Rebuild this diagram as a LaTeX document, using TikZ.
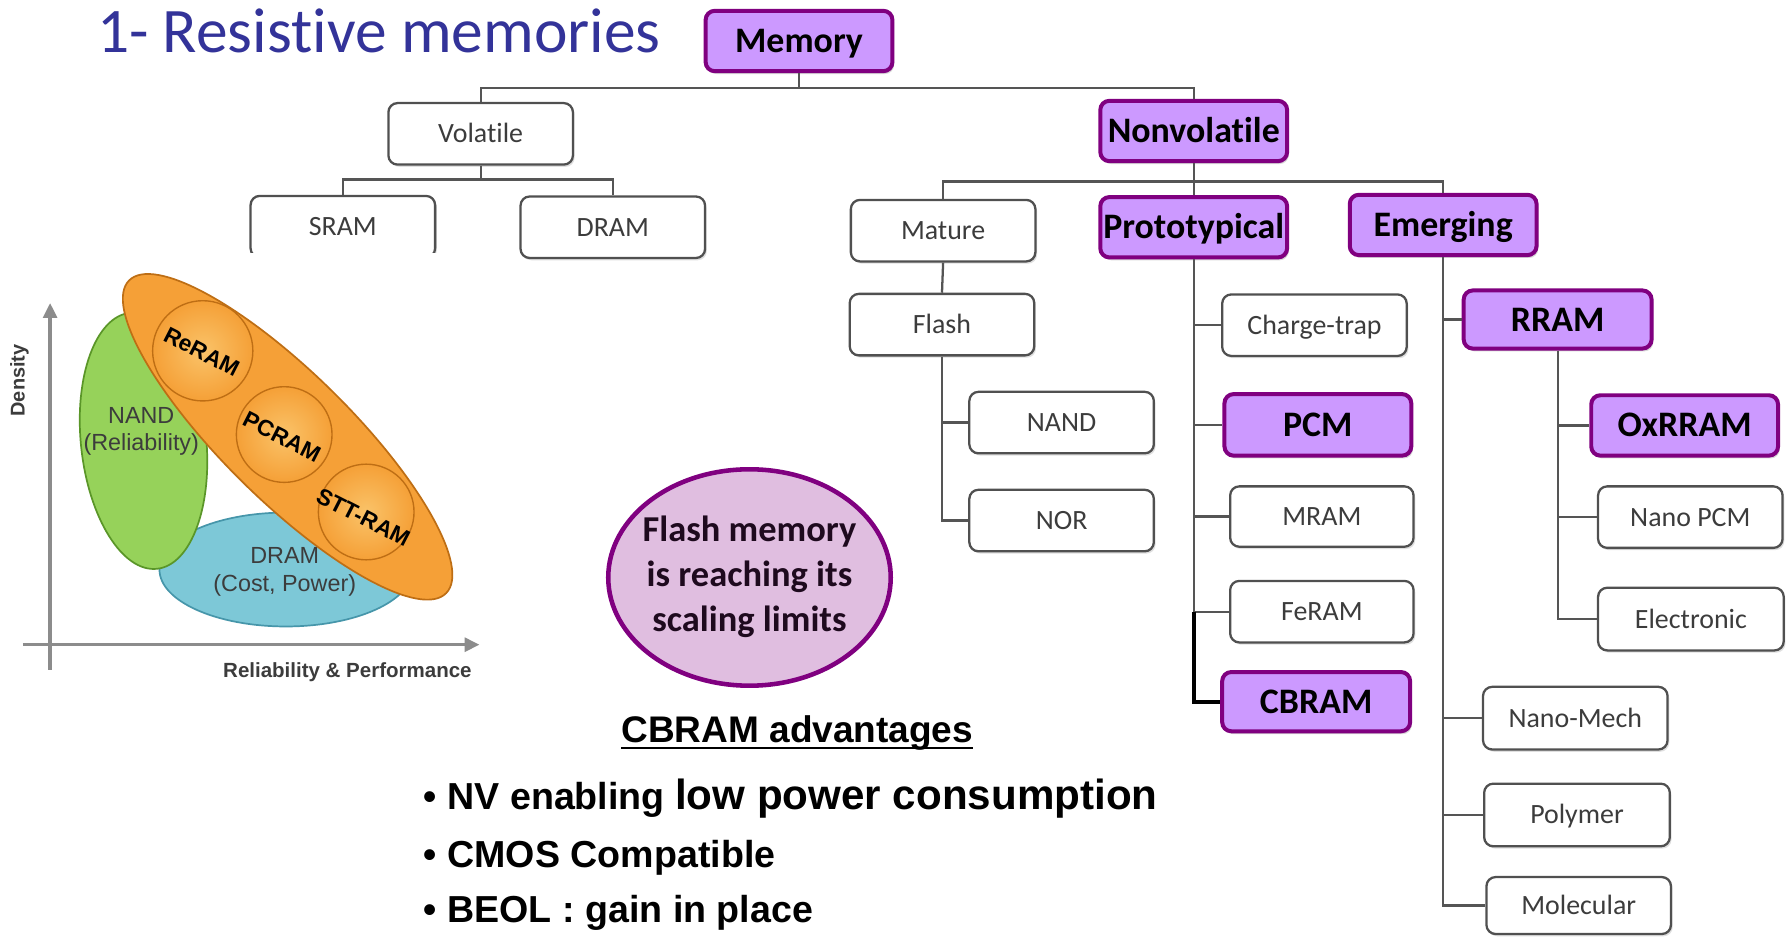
\documentclass[tikz,border=0pt]{standalone}
\usepackage{fontspec}
\setmainfont[Ligatures=NoCommon]{Carlito}
\newfontfamily\arialf{Liberation Sans}
\usetikzlibrary{arrows.meta,shadows}
\definecolor{titleblue}{RGB}{51,51,153}
\definecolor{pfill}{RGB}{204,153,255}
\definecolor{pborder}{RGB}{128,0,128}
\definecolor{boxgray}{RGB}{80,80,80}
\definecolor{textgray}{RGB}{60,60,60}
\definecolor{linegray}{RGB}{85,85,85}
\definecolor{axisgray}{RGB}{140,140,140}
\definecolor{nandgreen}{RGB}{150,210,90}
\definecolor{nandedge}{RGB}{90,150,40}
\definecolor{dramblue}{RGB}{125,200,215}
\definecolor{dramedge}{RGB}{70,150,170}
\definecolor{orfill}{RGB}{245,160,55}
\definecolor{orlight}{RGB}{250,195,105}
\definecolor{oredge}{RGB}{190,110,20}
\definecolor{flashfill}{RGB}{224,190,224}
\definecolor{flashtext}{RGB}{30,10,30}
\newcommand\calreg{\fontsize{24.5}{28}\selectfont}
\newcommand\calbold{\bfseries\fontsize{31.5}{36}\selectfont}
\tikzset{
  wbox/.style={draw=boxgray, line width=2pt, rounded corners=8pt, fill=white,
    minimum width=162pt, minimum height=54pt, inner sep=0pt, font=\calreg, text=textgray,
    text height=15.8pt, text depth=0pt,
    drop shadow={shadow xshift=1.5pt, shadow yshift=-2pt, opacity=0.25}},
  pbox/.style={draw=pborder, line width=3.5pt, rounded corners=8pt, fill=pfill,
    minimum width=164pt, minimum height=53pt, inner sep=0pt, font=\calbold, text=black,
    text height=20.3pt, text depth=0pt,
    drop shadow={shadow xshift=1.5pt, shadow yshift=-2.5pt, opacity=0.3}},
  conn/.style={draw=linegray, line width=2pt},
  hconn/.style={draw=black, line width=3.5pt},
  chartlbl/.style={font=\arialf\fontsize{20.5}{24}\selectfont, text=textgray, align=center, inner sep=0pt},
  ballbl/.style={font=\arialf\bfseries\fontsize{20}{24}\selectfont, text=black, inner sep=0pt, rotate=-27},
  bullet/.style={font=\arialf\bfseries\fontsize{33}{38}\selectfont, anchor=base west, inner sep=0pt}
}
\begin{document}
\begin{tikzpicture}[x=1pt,y=-1pt]
\useasboundingbox (0,0) rectangle (1568,824);
\fill[white] (0,0) rectangle (1568,824);

% title
\node[anchor=base west, inner sep=0pt, text=titleblue, font=\fontsize{55.7}{60}\selectfont] (title) at (85,46) {1- Resistive memories};

% tree nodes
\node[pbox] (mem) at (701.5,36) {Memory};
\node[wbox] (vol) at (422,117.5) {Volatile};
\node[pbox] (nonvol) at (1048,115) {Nonvolatile};
\node[wbox] (sram) at (301,199) {SRAM};
\node[wbox] (dram) at (538,199.5) {DRAM};
\node[wbox] (mature) at (828,202.5) {Mature};
\node[pbox] (proto) at (1048,199.5) {Prototypical};
\node[pbox] (emer) at (1267,197.5) {Emerging};
\node[wbox] (flash) at (827,285) {Flash};
\node[wbox] (ct) at (1154,285.5) {Charge-trap};
\node[pbox, minimum width=165pt, minimum height=51pt] (rram) at (1367.5,280.5) {RRAM};
\node[wbox] (nand) at (932,371) {NAND};
\node[pbox, minimum height=54pt] (pcm) at (1157,373) {PCM};
\node[pbox] (oxrram) at (1479,373.5) {OxRRAM};
\node[wbox] (nor) at (932,457) {NOR};
\node[wbox, minimum width=161pt, minimum height=53pt] (mram) at (1160.5,453.5) {MRAM};
\node[wbox] (nanopcm) at (1484,454) {Nano PCM};
\node[wbox, minimum width=161pt] (feram) at (1160.5,537) {FeRAM};
\node[wbox, minimum width=163pt, minimum height=55pt] (electronic) at (1484.5,543.5) {Electronic};
\node[pbox, minimum width=165pt, minimum height=52pt] (cbram) at (1155.5,616) {CBRAM};
\node[wbox, minimum height=55pt] (nanomech) at (1383,630.5) {Nano-Mech};
\node[wbox, minimum width=163pt, minimum height=55pt] (polymer) at (1384.5,715.5) {Polymer};
\node[wbox, minimum width=162pt, minimum height=50pt] (molecular) at (1386,795) {Molecular};

% connectors
\draw[conn] (mem.south) -- ++(0,13) -| (vol.north);
\draw[conn] (mem.south) -- ++(0,13) -| (nonvol.north);
\draw[conn] (vol.south) -- ++(0,12) -| (sram.north);
\draw[conn] (vol.south) -- ++(0,12) -| (dram.north);
\draw[conn] (nonvol.south) -- ++(0,16) -| (mature.north);
\draw[conn] (nonvol.south) -- (proto.north);
\draw[conn] (nonvol.south) -- ++(0,16) -| (emer.north);
\draw[conn] (mature.south) -- (flash.north);
\draw[conn] (flash.south) |- (nand.west);
\draw[conn] (flash.south) |- (nor.west);
\draw[conn] (proto.south) |- (ct.west);
\draw[conn] (proto.south) |- (pcm.west);
\draw[conn] (proto.south) |- (mram.west);
\draw[conn] (proto.south) |- (feram.west);
\draw[hconn] (proto.south |- feram.west) |- (cbram.west);
\draw[conn] (emer.south) |- (rram.west);
\draw[conn] (emer.south) |- (nanomech.west);
\draw[conn] (emer.south) |- (polymer.west);
\draw[conn] (emer.south) |- (molecular.west);
\draw[conn] (rram.south) |- (oxrram.west);
\draw[conn] (rram.south) |- (nanopcm.west);
\draw[conn] (rram.south) |- (electronic.west);

% chart (picture) background covers SRAM bottom
\fill[white] (0,222) rectangle (425,605);
\draw[axisgray, line width=3pt, -{Triangle[length=13pt,width=12pt]}] (44,588) -- (44,266);
\draw[axisgray, line width=3pt, -{Triangle[length=13pt,width=12pt]}] (20,566) -- (421,566);
\node[rotate=90, font=\arialf\bfseries\fontsize{17.5}{20}\selectfont, text=textgray, inner sep=0pt] (dens) at (17,334) {Density};
\node[font=\arialf\bfseries\fontsize{18}{21}\selectfont, text=textgray, inner sep=0pt] (relperf) at (305,590) {Reliability \& Performance};

\draw[fill=dramblue, draw=dramedge, line width=1.5pt] (251,500) ellipse [x radius=111pt, y radius=50pt];
\draw[fill=nandgreen, draw=nandedge, line width=1.5pt, rotate around={6:(126,387)}] (126,387) ellipse [x radius=55pt, y radius=113pt];
\node[chartlbl] (nandlbl) at (124,379) {NAND\\(Reliability)};
\node[chartlbl] (dramlbl) at (250,502) {DRAM\\(Cost, Power)};

\draw[fill=orfill, draw=oredge, line width=1.5pt, rotate around={-44.6:(252.5,383.5)}] (252.5,383.5) ellipse [x radius=195.5pt, y radius=56pt];
\shade[inner color=orlight, outer color=orfill] (178,308) circle [radius=44pt];
\draw[oredge, line width=1.2pt] (178,308) circle [radius=44pt];
\shade[inner color=orlight, outer color=orfill] (249.5,381.5) circle [radius=42pt];
\draw[oredge, line width=1.2pt] (249.5,381.5) circle [radius=42pt];
\shade[inner color=orlight, outer color=orfill] (321.5,449.5) circle [radius=42pt];
\draw[oredge, line width=1.2pt] (321.5,449.5) circle [radius=42pt];
\node[ballbl] (reram) at (177,309) {ReRAM};
\node[ballbl] (pcram) at (247.5,383.5) {PCRAM};
\node[ballbl] (sttram) at (319,454) {STT-RAM};

% flash note
\draw[draw=pborder, line width=4pt, fill=flashfill] (658,507) ellipse [x radius=124pt, y radius=95pt];
\node[inner sep=0pt, align=center, text=flashtext, font=\bfseries\fontsize{32}{39.5}\selectfont] (flashnote) at (658,506)
  {Flash memory\\is reaching its\\scaling limits};

% CBRAM advantages
\node[anchor=base, inner sep=0pt, font=\arialf\bfseries\fontsize{32.5}{38}\selectfont] (adv) at (700,652) {CBRAM advantages};
\draw[line width=2pt] ([yshift=-5pt]adv.base west) -- ([yshift=-5pt]adv.base east);
\node[bullet] (b1) at (372,711) {• NV enabling {\fontsize{37}{42}\selectfont low power consumption}};
\node[bullet] (b2) at (372,762) {• CMOS Compatible};
\node[bullet] (b3) at (372,810) {• BEOL : gain in place};
\end{tikzpicture}
\end{document}
